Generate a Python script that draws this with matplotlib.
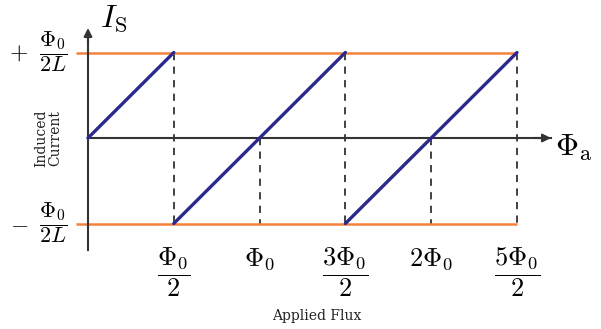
import numpy as np
import matplotlib.pyplot as plt

plt.rcParams['mathtext.fontset'] = 'cm'

# flux in units of Phi_0, current in units of Phi_0 / 2L
flux_ticks = [0.5, 1.0, 1.5, 2.0, 2.5]
tick_labels = [r'$\dfrac{\Phi_0}{2}$', r'$\Phi_0$', r'$\dfrac{3\Phi_0}{2}$',
               r'$2\Phi_0$', r'$\dfrac{5\Phi_0}{2}$']
dash_top = [1, 0, 1, 0, 1]

# sawtooth branches of the screening current
saw_flux = [[0.0, 0.5], [0.5, 1.5], [1.5, 2.5]]
saw_current = [[0, 1], [-1, 1], [-1, 1]]

i_max = 1.0
flux_max = 2.5

orange = '#f4823a'
navy = '#2b2a8c'
dark = '#333333'

# pixel scale of the drawing
sx, sy = 171.6, 85.5
x0, y0 = 88, 138
W, H = 601, 329

fig = plt.figure(figsize=(W / 100, H / 100), dpi=100)
ax = fig.add_axes([0, 0, 1, 1])
ax.set_xlim(-x0 / sx, (W - x0) / sx)
ax.set_ylim(-(H - y0) / sy, y0 / sy)
ax.axis('off')


def px(x, y):
    return (x - x0) / sx, (y0 - y) / sy


# limits of the current
for lev in (i_max, -i_max):
    ax.plot([px(76, 0)[0], flux_max], [lev, lev], color=orange, lw=1.8,
            solid_capstyle='butt', zorder=2)

# dashed guides
for f, top in zip(flux_ticks, dash_top):
    ax.plot([f, f], [top, -i_max], color=dark, lw=1.3, ls=(0, (4, 3.5)), zorder=1)

# axes with arrows
ax.plot([0, 0], [px(0, 250)[1], 1.2], color=dark, lw=1.5, zorder=3)
ax.annotate('', xy=px(88, 28), xytext=(0, 1.1),
            arrowprops=dict(arrowstyle='-|>', color=dark, lw=1.5, mutation_scale=12,
                            shrinkA=0, shrinkB=0), zorder=3)
ax.plot([0, 2.7], [0, 0], color=dark, lw=1.5, zorder=3)
ax.annotate('', xy=px(551, 138), xytext=(2.6, 0),
            arrowprops=dict(arrowstyle='-|>', color=dark, lw=1.5, mutation_scale=12,
                            shrinkA=0, shrinkB=0), zorder=3)

# sawtooth
for fx, cy in zip(saw_flux, saw_current):
    ax.plot(fx, cy, color=navy, lw=2.4, solid_capstyle='round', zorder=4)

# tick labels under the plot
for f, lab in zip(flux_ticks, tick_labels):
    ax.text(f, px(0, 246)[1], lab, ha='center', va='top', fontsize=19)

# current limits on the vertical axis
for lev, sign, ypix in ((i_max, '+', 52), (-i_max, '-', 223)):
    ax.text(px(28, 0)[0], lev, '$' + sign + '$', ha='right', va='center', fontsize=17)
    ax.text(*px(67, ypix), r'$\dfrac{\Phi_0}{2L}$', ha='right', va='center', fontsize=16)

ax.text(*px(100, 27), r'$I_{\rm S}$', ha='left', va='baseline', fontsize=23)
ax.text(*px(555, 156), r'$\Phi_{\rm a}$', ha='left', va='baseline', fontsize=23)

ax.text(*px(48, 138), 'Induced\nCurrent', rotation=90, ha='center', va='center',
        fontsize=10, family='DejaVu Serif', linespacing=1.0, color='#222222')
ax.text(*px(317, 316), 'Applied Flux', ha='center', va='center',
        fontsize=10, family='DejaVu Serif', color='#222222')

fig.savefig('out.png', dpi=100)
